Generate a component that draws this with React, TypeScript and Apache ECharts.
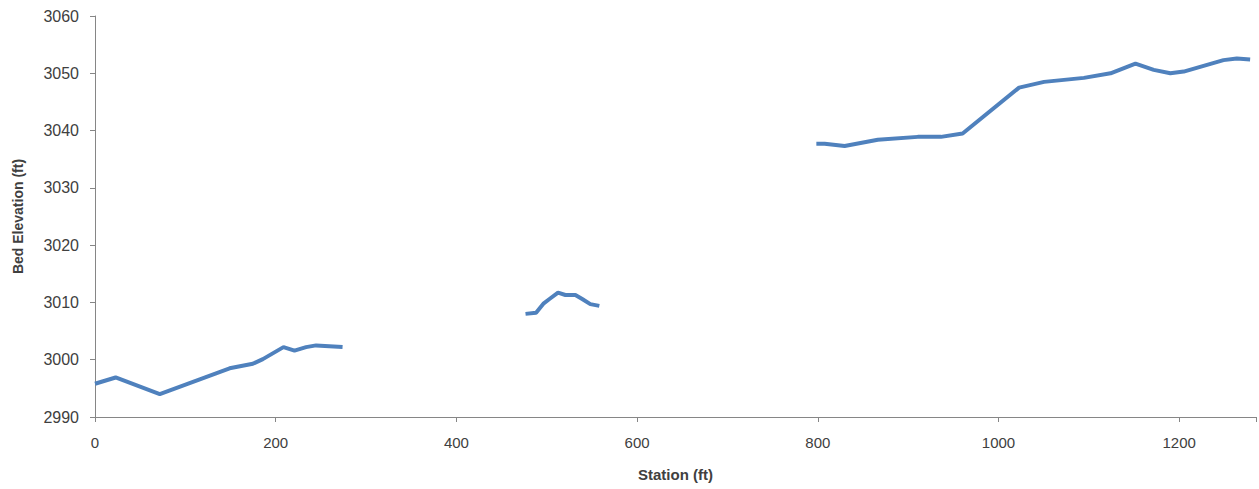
import React, { useEffect, useRef } from "react";
import * as echarts from "echarts";

// Station (ft) / bed elevation (ft); null separates surveyed reaches
const stations: (number | null)[] = [
  0, 22.8, 71.7, 149, 174.7, 185.8, 208.6, 220.8, 233.6, 244.7, 274,
  null,
  476.5, 488.2, 496.7, 503, 512.5, 520.6, 531.7, 539.7, 548.2, 558.2,
  null,
  798.4, 807.6, 829.7, 866.4, 910.6, 936.3, 960.3, 1022.8, 1050.4, 1094.5, 1124, 1151.6, 1171.8, 1190.2, 1205, 1249, 1263.8, 1278.5,
];
const elevations: (number | null)[] = [
  2995.8, 2996.9, 2994.0, 2998.5, 2999.3, 3000.1, 3002.2, 3001.6, 3002.2, 3002.5, 3002.2,
  null,
  3008.0, 3008.2, 3009.85, 3010.6, 3011.7, 3011.3, 3011.3, 3010.55, 3009.7, 3009.4,
  null,
  3037.7, 3037.7, 3037.3, 3038.4, 3038.9, 3038.9, 3039.5, 3047.5, 3048.5, 3049.2, 3050.0, 3051.7, 3050.6, 3050.0, 3050.3, 3052.3, 3052.6, 3052.4,
];

const xAxisTitle = "Station (ft)";
const yAxisTitle = "Bed Elevation (ft)";

export default function App() {
  const ref = useRef<HTMLDivElement>(null);
  useEffect(() => {
    if (!ref.current) return;
    const chart = echarts.init(ref.current, undefined, { renderer: "svg" });
    const data = stations.map((s, i) =>
      s === null || elevations[i] === null ? [null, null] : [s, elevations[i]]
    );
    const font = "'Liberation Sans', Arial, sans-serif";
    chart.setOption({
      animation: false,
      backgroundColor: "#ffffff",
      grid: { left: 95, right: 0, top: 16, bottom: 72 },
      xAxis: {
        type: "value",
        min: 0,
        max: 1285,
        interval: 200,
        name: xAxisTitle,
        nameLocation: "middle",
        nameGap: 50,
        nameTextStyle: { fontFamily: font, fontSize: 15, fontWeight: "bold", color: "#404040" },
        axisLine: { show: true, lineStyle: { color: "#868686", width: 1 } },
        axisTick: { show: true, inside: false, length: 5, lineStyle: { color: "#868686" } },
        splitLine: { show: false },
        axisLabel: {
          fontFamily: font,
          fontSize: 15,
          color: "#404040",
          margin: 18,
          formatter: (v: number) => (v % 200 === 0 ? String(v) : ""),
        },
      },
      yAxis: {
        type: "value",
        min: 2990,
        max: 3060,
        interval: 10,
        name: yAxisTitle,
        nameLocation: "middle",
        nameGap: 70,
        nameTextStyle: { fontFamily: font, fontSize: 14, fontWeight: "bold", color: "#404040" },
        axisLine: { show: true, lineStyle: { color: "#868686", width: 1 } },
        axisTick: { show: true, inside: false, length: 5, lineStyle: { color: "#868686" } },
        splitLine: { show: false },
        axisLabel: {
          fontFamily: font,
          fontSize: 16,
          color: "#404040",
          margin: 16,
          formatter: (v: number) => String(v),
        },
      },
      series: [
        {
          type: "line",
          data,
          connectNulls: false,
          showSymbol: false,
          symbol: "none",
          lineStyle: { color: "#4F81BD", width: 4 },
        },
      ],
    });
    return () => chart.dispose();
  }, []);
  return (
    <div
      ref={ref}
      style={{ position: "fixed", left: 0, top: 0, width: 1259, height: 489, background: "#fff" }}
    />
  );
}
